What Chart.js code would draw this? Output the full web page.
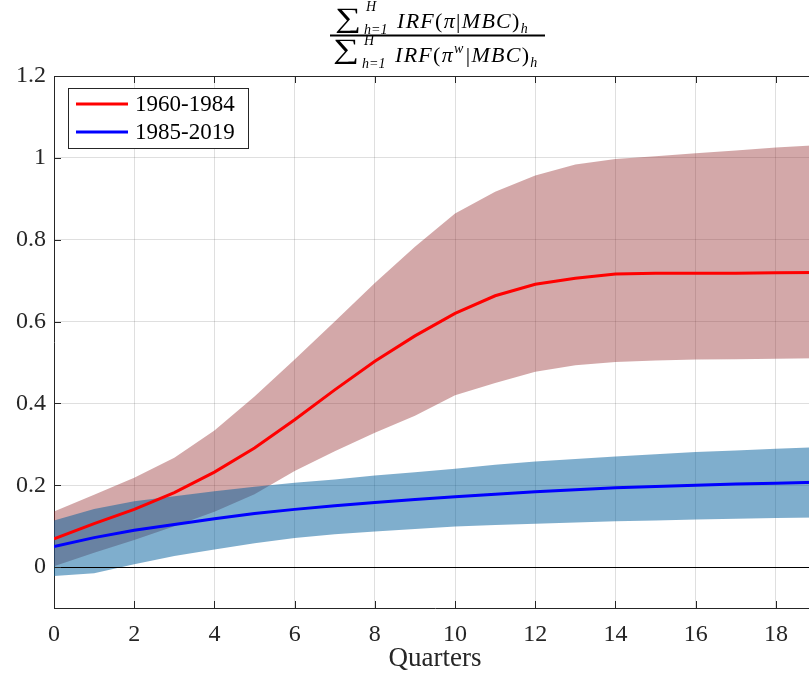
<!DOCTYPE html>
<html>
<head>
<meta charset="utf-8">
<script src="https://cdn.jsdelivr.net/npm/chart.js@4/dist/chart.umd.min.js"></script>
<style>
    html, body { margin: 0; padding: 0; overflow: hidden; background: #fff; }
    canvas { display: block; }
</style>
</head>
<body>
<canvas id="chart" width="816" height="681"></canvas>
<script>
// horizon in quarters
const quarters = [0, 1, 2, 3, 4, 5, 6, 7, 8, 9, 10, 11, 12, 13, 14, 15, 16, 17, 18, 19];

// 1960-1984: median ratio and band
const earlyMid   = [0.069, 0.106, 0.141, 0.182, 0.232, 0.291, 0.360, 0.433, 0.503, 0.565, 0.620, 0.663, 0.691, 0.706, 0.716, 0.718, 0.718, 0.718, 0.719, 0.720];
const earlyUpper = [0.136, 0.177, 0.218, 0.267, 0.334, 0.417, 0.507, 0.600, 0.694, 0.783, 0.864, 0.917, 0.957, 0.984, 0.997, 1.004, 1.011, 1.018, 1.025, 1.031];
const earlyLower = [0.002, 0.035, 0.066, 0.100, 0.135, 0.178, 0.235, 0.283, 0.328, 0.370, 0.420, 0.450, 0.477, 0.493, 0.501, 0.505, 0.507, 0.508, 0.509, 0.510];

// 1985-2019: median ratio and band
const lateMid   = [0.050, 0.072, 0.090, 0.104, 0.118, 0.131, 0.141, 0.150, 0.158, 0.165, 0.172, 0.178, 0.184, 0.189, 0.194, 0.197, 0.200, 0.203, 0.205, 0.207];
const lateUpper = [0.114, 0.142, 0.161, 0.173, 0.185, 0.196, 0.206, 0.214, 0.224, 0.232, 0.240, 0.250, 0.258, 0.264, 0.270, 0.276, 0.281, 0.285, 0.289, 0.293];
const lateLower = [-0.022, -0.015, 0.007, 0.027, 0.043, 0.058, 0.071, 0.080, 0.087, 0.093, 0.099, 0.103, 0.106, 0.109, 0.112, 0.114, 0.116, 0.118, 0.120, 0.121];

const seriesLabels = ["1960-1984", "1985-2019"];
const xTicks = [0, 2, 4, 6, 8, 10, 12, 14, 16, 18];
const yTicks = [0, 0.2, 0.4, 0.6, 0.8, 1, 1.2];

const serif = "'Liberation Serif', 'DejaVu Serif', serif";
const ink = "#262626";
const gridColor = "rgba(38, 38, 38, 0.15)";

/**
 * @param {number[]} vals
 */
function pts(vals) {
    return quarters.map((q, i) => ({ x: q, y: vals[i] }));
}

// draws a list of text runs left to right, returns the end x
function drawRuns(ctx, x, y, runs) {
    for (const r of runs) {
        ctx.font = `${r.italic ? "italic " : ""}${r.size}px ${serif}`;
        ctx.fillText(r.text, x, y + (r.dy ?? 0));
        x += ctx.measureText(r.text).width + (r.gap ?? 0);
    }
    return x;
}

function drawSumTerm(ctx, x, base, sigmaBase, withW) {
    ctx.letterSpacing = "0px";
    // big operator, stretched a bit to look like the TeX one
    ctx.save();
    ctx.translate(x, sigmaBase);
    ctx.scale(1.3, 1);
    ctx.font = `28px ${serif}`;
    ctx.fillText("∑", 0, 0);
    ctx.restore();
    ctx.font = `italic 14px ${serif}`;
    ctx.fillText("H", x + 31, base - 17);
    ctx.fillText("h=1", x + 29, base + 6);
    ctx.letterSpacing = "1.3px";
    const runs = [
        { text: "IRF", italic: true, size: 22 },
        { text: "(", size: 22 },
        { text: "π", italic: true, size: 22 }
    ];
    if (withW) runs.push({ text: "w", italic: true, size: 14, dy: -9, gap: 1 });
    runs.push(
        { text: "|", size: 22 },
        { text: "MBC", italic: true, size: 22 },
        { text: ")", size: 22 },
        { text: "h", italic: true, size: 14, dy: 5 }
    );
    drawRuns(ctx, x + 62, base, runs);
    ctx.letterSpacing = "0px";
}

const titlePlugin = {
    id: "fractionTitle",
    afterDraw(chart) {
        const ctx = chart.ctx;
        ctx.save();
        ctx.fillStyle = "#000";
        ctx.textBaseline = "alphabetic";
        ctx.textAlign = "left";
        drawSumTerm(ctx, 335, 28, 26.5, false);
        drawSumTerm(ctx, 333, 62, 57.5, true);
        ctx.fillRect(330, 34.5, 215, 2);
        ctx.restore();
    }
};

// box ticks pointing inward, top border, zero line, boxed legend
const framePlugin = {
    id: "frame",
    afterDatasetsDraw(chart) {
        const { ctx, chartArea: a, scales } = chart;
        ctx.save();
        ctx.strokeStyle = "#000";
        ctx.lineWidth = 1;
        const y0 = Math.round(scales.y.getPixelForValue(0)) + 0.5;
        ctx.beginPath();
        ctx.moveTo(a.left, y0);
        ctx.lineTo(a.right, y0);
        ctx.stroke();
        ctx.restore();
    },
    afterDraw(chart) {
        const { ctx, chartArea: a, scales } = chart;
        ctx.save();
        ctx.strokeStyle = ink;
        ctx.lineWidth = 1;
        ctx.beginPath();
        ctx.moveTo(a.left, a.top + 0.5);
        ctx.lineTo(a.right, a.top + 0.5);
        for (const v of xTicks) {
            const px = Math.round(scales.x.getPixelForValue(v)) + 0.5;
            ctx.moveTo(px, a.bottom); ctx.lineTo(px, a.bottom - 7);
            ctx.moveTo(px, a.top); ctx.lineTo(px, a.top + 7);
        }
        for (const v of yTicks) {
            const py = Math.round(scales.y.getPixelForValue(v)) + 0.5;
            ctx.moveTo(a.left, py); ctx.lineTo(a.left + 7, py);
            ctx.moveTo(a.right, py); ctx.lineTo(a.right - 7, py);
        }
        ctx.stroke();

        // legend
        ctx.fillStyle = "#fff";
        ctx.fillRect(68, 88, 180, 60);
        ctx.strokeStyle = ink;
        ctx.strokeRect(68.5, 88.5, 180, 60);
        ctx.font = `23px ${serif}`;
        ctx.textBaseline = "middle";
        ctx.fillStyle = "#000";
        chart.data.datasets.slice(0, 2).forEach((ds, i) => {
            const y = 104 + i * 28;
            ctx.strokeStyle = ds.borderColor;
            ctx.lineWidth = 3;
            ctx.beginPath();
            ctx.moveTo(76, y);
            ctx.lineTo(128, y);
            ctx.stroke();
            ctx.fillText(ds.label, 135, y + 1);
        });
        ctx.restore();
    }
};

const tickFont = { family: serif, size: 24 };

new Chart(document.getElementById("chart"), {
    type: "line",
    data: {
        datasets: [
            { label: seriesLabels[0], data: pts(earlyMid), borderColor: "#ff0000", borderWidth: 3, fill: false, order: 0 },
            { label: seriesLabels[1], data: pts(lateMid), borderColor: "#0000ff", borderWidth: 3, fill: false, order: 1 },
            { data: pts(lateUpper), fill: 3, backgroundColor: "rgba(0, 93, 155, 0.5)", borderColor: "transparent", borderWidth: 0, order: 2 },
            { data: pts(lateLower), fill: false, borderColor: "transparent", borderWidth: 0, order: 2 },
            { data: pts(earlyUpper), fill: 5, backgroundColor: "rgba(145, 37, 40, 0.4)", borderColor: "transparent", borderWidth: 0, order: 3 },
            { data: pts(earlyLower), fill: false, borderColor: "transparent", borderWidth: 0, order: 3 }
        ]
    },
    options: {
        responsive: false,
        animation: false,
        devicePixelRatio: 1,
        elements: {
            point: { radius: 0 },
            line: { tension: 0 }
        },
        layout: { padding: { top: 76, left: 0, right: 0, bottom: 0 } },
        plugins: {
            legend: { display: false },
            tooltip: { enabled: false },
            title: { display: false }
        },
        scales: {
            x: {
                type: "linear",
                min: 0,
                max: 19,
                z: 1,
                afterBuildTicks: s => { s.ticks = xTicks.map(v => ({ value: v })); },
                afterFit: s => { s.height = 73; },
                grid: { color: gridColor, drawTicks: false },
                border: { color: ink, width: 1 },
                ticks: { font: tickFont, color: ink, padding: 12, maxRotation: 0, autoSkip: false },
                title: {
                    display: true,
                    text: "Quarters",
                    font: { family: serif, size: 27 },
                    color: ink,
                    padding: { top: 0, bottom: 6 }
                }
            },
            y: {
                type: "linear",
                min: -0.1,
                max: 1.2,
                z: 1,
                afterBuildTicks: s => { s.ticks = yTicks.map(v => ({ value: v })); },
                afterFit: s => { s.width = 54; },
                grid: { color: gridColor, drawTicks: false },
                border: { color: ink, width: 1 },
                ticks: {
                    font: tickFont,
                    color: ink,
                    padding: 8,
                    autoSkip: false,
                    callback: v => String(+v.toFixed(1))
                }
            }
        }
    },
    plugins: [titlePlugin, framePlugin]
});
</script>
</body>
</html>
